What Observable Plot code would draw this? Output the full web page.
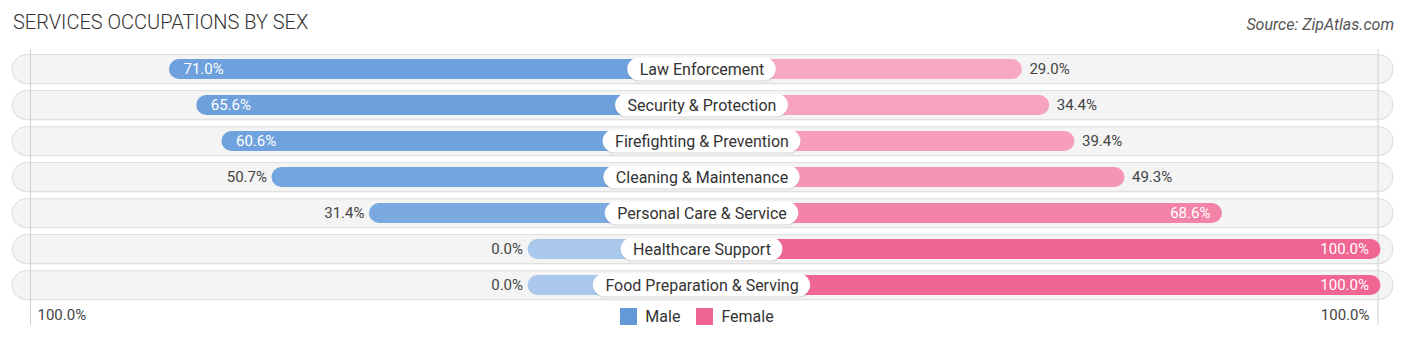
<!DOCTYPE html>
<html><head><meta charset="utf-8">
<script src="https://cdn.jsdelivr.net/npm/d3@7"></script>
<script src="https://cdn.jsdelivr.net/npm/@observablehq/plot@0.6"></script>
<style>
body{margin:0;background:#fff;font-family:Roboto,sans-serif;}
#wrap{position:relative;width:1406px;height:341px;overflow:hidden}
#header{position:relative;height:40px}
#title{position:absolute;left:13px;top:10px;font-size:20px;color:#333;white-space:nowrap;font-weight:300}
#source{position:absolute;right:12px;top:15px;font-size:16px;font-style:italic;color:#555;white-space:nowrap}
#legend{position:absolute;left:4px;right:0;top:300px;display:flex;justify-content:center}
</style></head>
<body><div id="wrap"><div id="header"><div id="title">SERVICES OCCUPATIONS BY SEX</div><div id="source">Source: ZipAtlas.com</div></div><div id="chart"></div><div id="legend"></div></div>
<script>
const categories = ["Law Enforcement","Security & Protection","Firefighting & Prevention","Cleaning & Maintenance","Personal Care & Service","Healthcare Support","Food Preparation & Serving"];
const maleValues = [71.0, 65.6, 60.6, 50.7, 31.4, 0.0, 0.0];
const femaleValues = [29.0, 34.4, 39.4, 49.3, 68.6, 100.0, 100.0];
const seriesNames = ["Male", "Female"];
const seriesColors = ["#6399d9", "#f06592"];
const edgeTickLabel = "100.0%";

const GAP = 34.45;            // space reserved for the centre label, in % units
const LIMIT = 100 + GAP;
const WIDTH = 1406, HEIGHT = 301, ML = 22.5, MR = 25.5;
const pxPerUnit = (WIDTH - ML - MR) / (2 * LIMIT);

const rows = categories.map((c, i) => ({category: c, male: maleValues[i], female: femaleValues[i]}));
const maleColor = d3.scaleLinear().domain([0, 30, 100]).range(["#aac8ec", "#7aaae0", "#6399d9"]).clamp(true);
const femaleColor = d3.scaleLinear().domain([29, 100]).range(["#f7a8c2", "#f06592"]).clamp(true);

const ctx = document.createElement("canvas").getContext("2d");
ctx.font = "16px Roboto";
const pillHalf = d => (ctx.measureText(d.category).width / 2 + 12) / pxPerUnit;
const fmt = v => v.toFixed(1) + "%";
const INSIDE = 55;

const chart = Plot.plot({
  width: WIDTH, height: HEIGHT,
  marginLeft: ML, marginRight: MR, marginTop: 10, marginBottom: 38,
  style: {fontFamily: "Roboto, sans-serif", fontSize: "15px", color: "#444", background: "transparent", overflow: "visible"},
  x: {domain: [-LIMIT, LIMIT], axis: null},
  y: {domain: categories, padding: 0, axis: null},
  marks: [
    Plot.barX(rows, {y: "category", x1: -LIMIT, x2: LIMIT, insetLeft: -10.5, insetRight: -12.5, insetTop: 3.6, insetBottom: 3.6, rx: 14.5, fill: "#000", fillOpacity: 0.07, dy: 1}),
    Plot.barX(rows, {y: "category", x1: -LIMIT, x2: LIMIT, insetLeft: -10.5, insetRight: -12.5, insetTop: 3.6, insetBottom: 3.6, rx: 14.5, fill: "#f4f4f4", stroke: "#dedede", strokeWidth: 1}),
    Plot.gridX([-LIMIT], {stroke: "#cfcfcf", strokeOpacity: 1, dx: 7.5, insetTop: -1, insetBottom: -22}),
    Plot.gridX([LIMIT], {stroke: "#cfcfcf", strokeOpacity: 1, dx: -3, insetTop: -1, insetBottom: -22}),
    Plot.axisX([-LIMIT], {anchor: "bottom", tickSize: 0, tickPadding: 6, tickFormat: () => edgeTickLabel, textAnchor: "start", dx: 14.5, fontSize: 15}),
    Plot.axisX([LIMIT], {anchor: "bottom", tickSize: 0, tickPadding: 6, tickFormat: () => edgeTickLabel, textAnchor: "end", dx: -11.5, fontSize: 15}),
    Plot.barX(rows, {y: "category", x1: 0, x2: d => -(d.male + GAP), fill: d => maleColor(d.male), insetTop: 8.1, insetBottom: 8.1, rx: 10}),
    Plot.barX(rows, {y: "category", x1: 0, x2: d => d.female + GAP, fill: d => femaleColor(d.female), insetTop: 8.1, insetBottom: 8.1, rx: 10}),
    Plot.barX(rows, {y: "category", x1: d => -pillHalf(d), x2: d => pillHalf(d), insetTop: 6.6, insetBottom: 6.6, rx: 11.5, fill: "#000", fillOpacity: 0.12, dy: 1.2}),
    Plot.barX(rows, {y: "category", x1: d => -pillHalf(d), x2: d => pillHalf(d), insetTop: 6.6, insetBottom: 6.6, rx: 11.5, fill: "white"}),
    Plot.text(rows, {y: "category", x: 0, text: "category", fontSize: 16, fill: "#333"}),
    Plot.text(rows.filter(d => d.male >= INSIDE), {y: "category", x: d => -(d.male + GAP), text: d => fmt(d.male), dx: 14, textAnchor: "start", fill: "white", fontSize: 15}),
    Plot.text(rows.filter(d => d.male < INSIDE), {y: "category", x: d => -(d.male + GAP), text: d => fmt(d.male), dx: -5, textAnchor: "end", fill: "#444", fontSize: 15}),
    Plot.text(rows.filter(d => d.female >= INSIDE), {y: "category", x: d => d.female + GAP, text: d => fmt(d.female), dx: -12, textAnchor: "end", fill: "white", fontSize: 15}),
    Plot.text(rows.filter(d => d.female < INSIDE), {y: "category", x: d => d.female + GAP, text: d => fmt(d.female), dx: 7, textAnchor: "start", fill: "#444", fontSize: 15})
  ]
});
document.getElementById("chart").appendChild(chart);

const legend = Plot.legend({
  color: {type: "ordinal", domain: seriesNames, range: seriesColors},
  legend: "swatches", swatchSize: 17,
  style: {fontSize: "16px", fontFamily: "Roboto, sans-serif", color: "#333", marginLeft: "0"}
});
document.getElementById("legend").appendChild(legend);
</script>
</body></html>
